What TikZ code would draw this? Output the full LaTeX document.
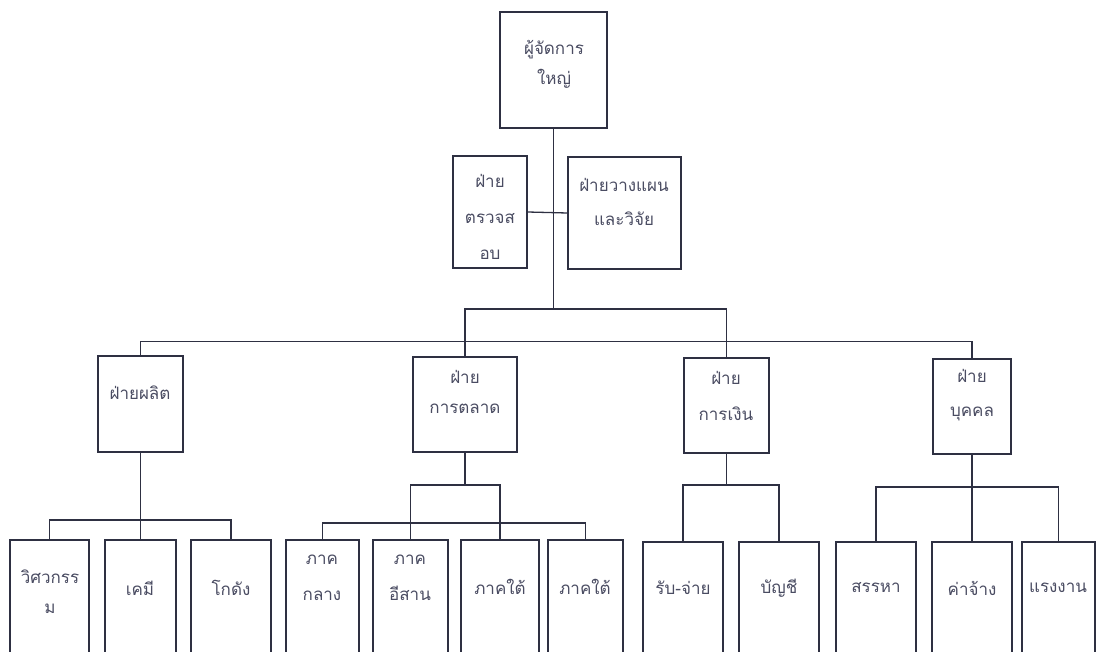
\documentclass[tikz,border=0pt]{standalone}
\usepackage{fontspec}
\newfontfamily\thai[Script=Thai]{Loma}
\definecolor{edge}{HTML}{2E3042}
\definecolor{ink}{HTML}{4A4C62}
\tikzset{
  orgbox/.style={draw=edge, line width=1.4pt, fill=none, inner sep=0pt},
  txt/.style={text=ink, font=\thai\fontsize{17}{30}\selectfont, align=center, inner sep=0pt},
  link/.style={draw=edge, line width=1.3pt},
}
\newcommand{\ob}[5]{% name, x1, x2, y1, y2
  \node[orgbox, minimum width={(#3-#2)*1pt}, minimum height={(#5-#4)*1pt}] (#1) at ({(#2+#3)/2},{(#4+#5)/2}) {};}
\begin{document}
\begin{tikzpicture}[x=1pt,y=-1pt]
\useasboundingbox (0,0) rectangle (1096,652);
% boxes
\ob{gm}{500}{607}{12}{128}
\ob{audit}{453}{527}{156}{268}
\ob{plan}{568}{681}{157}{269}
\ob{prod}{98}{183}{356}{452}
\ob{mkt}{413}{517}{357}{452}
\ob{fin}{684}{769}{358}{453}
\ob{hr}{933}{1011}{359}{454}
\ob{eng}{10}{89}{540}{664}
\ob{chem}{105}{176}{540}{664}
\ob{ware}{191}{271}{540}{664}
\ob{cen}{286}{359}{540}{664}
\ob{ne}{373}{448}{540}{664}
\ob{sa}{461}{539}{540}{664}
\ob{sb}{548}{623}{540}{664}
\ob{recv}{643}{723}{542}{664}
\ob{acct}{739}{819}{542}{664}
\ob{recr}{836}{916}{542}{664}
\ob{wage}{932}{1012}{542}{664}
\ob{labor}{1022}{1095}{542}{664}
% texts
\node[txt] (tgm) at (554,64) {ผู้จัดการ\\ใหญ่};
\node[txt, font=\thai\fontsize{17}{36}\selectfont] (taudit) at (490,217) {ฝ่าย\\ตรวจส\\อบ};
\node[txt, font=\thai\fontsize{17}{34}\selectfont] (tplan) at (624,202) {ฝ่ายวางแผน\\และวิจัย};
\node[txt] (tprod) at (140,393) {ฝ่ายผลิต};
\node[txt] (tmkt) at (465,392) {ฝ่าย\\การตลาด};
\node[txt, font=\thai\fontsize{17}{36}\selectfont] (tfin) at (726,396) {ฝ่าย\\การเงิน};
\node[txt, font=\thai\fontsize{17}{34}\selectfont] (thr) at (972,395) {ฝ่าย\\บุคคล};
\node[txt] (teng) at (50,592) {วิศวกรร\\ม};
\node[txt] (tchem) at (140,588) {เคมี};
\node[txt] (tware) at (231,588) {โกดัง};
\node[txt, font=\thai\fontsize{17}{36}\selectfont] (tcen) at (322,578) {ภาค\\กลาง};
\node[txt, font=\thai\fontsize{17}{36}\selectfont] (tne) at (410,578) {ภาค\\อีสาน};
\node[txt] (tsa) at (500,587) {ภาคใต้};
\node[txt] (tsb) at (585,587) {ภาคใต้};
\node[txt] (trecv) at (683,588) {รับ-จ่าย};
\node[txt] (tacct) at (779,588) {บัญชี};
\node[txt] (trecr) at (876,588) {สรรหา};
\node[txt] (twage) at (972,588) {ค่าจ้าง};
\node[txt] (tlabor) at (1058,588) {แรงงาน};
% junction coordinates
\coordinate (j1) at (553.5,309);
\coordinate (j2) at (140.5,520);
\coordinate (j3) at (465,485);
\coordinate (j3b) at (465,523);
\coordinate (j4) at (726.5,485);
\coordinate (j5) at (972,487);
% connectors
\draw[link] (gm.south) -- (j1);
\draw[link] (audit.east) -- (plan.west);
\draw[link] (mkt.north) -- (mkt.north |- j1) -- (fin.north |- j1) -- (fin.north);
\draw[link] (prod.north) -- ++(0,-14) -| (hr.north);
\draw[link] (prod.south) -- (chem.north);
\draw[link] (eng.north) |- (j2) -| (ware.north);
\draw[link] (mkt.south) -- (j3);
\draw[link] (ne.north) |- (j3) -| (sa.north);
\draw[link] (cen.north) |- (j3b) -| (sb.north);
\draw[link] (fin.south) -- (j4);
\draw[link] (recv.north) |- (j4) -| (acct.north);
\draw[link] (hr.south) -- (j5);
\draw[link] (recr.north) |- (j5) -| (labor.north);
\draw[link] (j5) -- (wage.north);
\end{tikzpicture}
\end{document}
